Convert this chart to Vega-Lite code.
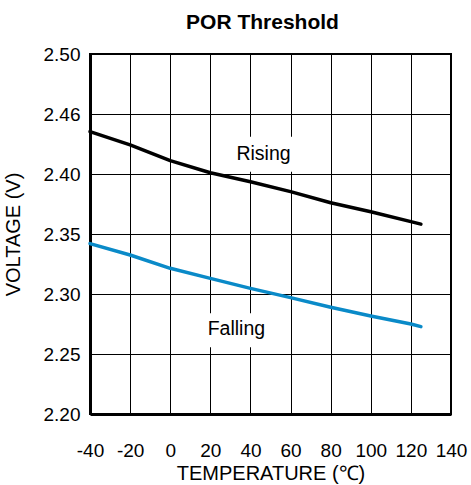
{
  "$schema": "https://vega.github.io/schema/vega-lite/v6.json",
  "width": 361,
  "height": 360,
  "autosize": {"type": "none"},
  "padding": {"left": 90, "top": 54, "right": 20, "bottom": 71},
  "background": "white",
  "title": {
    "text": "POR Threshold",
    "font": "Liberation Sans",
    "fontSize": 21,
    "fontWeight": "bold",
    "color": "black",
    "offset": 12,
    "dx": -8
  },
  "datasets": {
    "curves": [
      {"series": "Rising", "temp": -40, "volt": 2.4353},
      {"series": "Rising", "temp": -20, "volt": 2.4242},
      {"series": "Rising", "temp": 0, "volt": 2.4111},
      {"series": "Rising", "temp": 20, "volt": 2.4010},
      {"series": "Rising", "temp": 40, "volt": 2.3936},
      {"series": "Rising", "temp": 60, "volt": 2.3853},
      {"series": "Rising", "temp": 80, "volt": 2.3760},
      {"series": "Rising", "temp": 100, "volt": 2.3686},
      {"series": "Rising", "temp": 120, "volt": 2.3603},
      {"series": "Rising", "temp": 125, "volt": 2.3582},
      {"series": "Falling", "temp": -40, "volt": 2.3420},
      {"series": "Falling", "temp": -20, "volt": 2.3325},
      {"series": "Falling", "temp": 0, "volt": 2.3214},
      {"series": "Falling", "temp": 20, "volt": 2.3130},
      {"series": "Falling", "temp": 40, "volt": 2.3047},
      {"series": "Falling", "temp": 60, "volt": 2.2970},
      {"series": "Falling", "temp": 80, "volt": 2.2890},
      {"series": "Falling", "temp": 100, "volt": 2.2817},
      {"series": "Falling", "temp": 120, "volt": 2.2750},
      {"series": "Falling", "temp": 125, "volt": 2.2728}
    ],
    "labels": [
      {"label": "Rising", "temp": 46.5, "volt": 2.4117, "t1": 30.8, "t2": 62.7, "v1": 2.4019, "v2": 2.4311},
      {"label": "Falling", "temp": 33.0, "volt": 2.2658, "t1": 16.4, "t2": 49.7, "v1": 2.2556, "v2": 2.2839}
    ]
  },
  "config": {
    "font": "Liberation Sans",
    "view": {"stroke": "black", "strokeWidth": 2},
    "axis": {
      "gridColor": "black",
      "gridWidth": 1,
      "gridOpacity": 1,
      "domainColor": "black",
      "domainWidth": 3,
      "ticks": false,
      "labelColor": "black",
      "labelFont": "Liberation Sans",
      "labelFontSize": 19,
      "titleColor": "black",
      "titleFont": "Liberation Sans",
      "titleFontSize": 20,
      "titleFontWeight": "normal"
    }
  },
  "layer": [
    {
      "data": {"name": "labels"},
      "mark": {"type": "rect", "fill": "white", "stroke": null},
      "encoding": {
        "x": {"field": "t1", "type": "quantitative", "scale": {"domain": [-40, 140], "nice": false, "zero": false}},
        "x2": {"field": "t2"},
        "y": {"field": "v1", "type": "quantitative", "scale": {"domain": [2.2, 2.5], "nice": false, "zero": false}},
        "y2": {"field": "v2"}
      }
    },
    {
      "data": {"name": "labels"},
      "mark": {"type": "text", "font": "Liberation Sans", "fontSize": 19.5, "color": "black", "align": "center", "baseline": "alphabetic"},
      "encoding": {
        "x": {"field": "temp", "type": "quantitative"},
        "y": {"field": "volt", "type": "quantitative"},
        "text": {"field": "label"}
      }
    },
    {
      "data": {"name": "curves"},
      "mark": {"type": "line", "strokeWidth": 3.5, "strokeCap": "round", "strokeJoin": "round"},
      "encoding": {
        "x": {
          "field": "temp",
          "type": "quantitative",
          "axis": {
            "values": [-40, -20, 0, 20, 40, 60, 80, 100, 120, 140],
            "labelExpr": "toString(datum.value)",
            "title": "TEMPERATURE (℃)",
            "labelPadding": 27,
            "titlePadding": 3,
            "labelOverlap": false,
            "labelFlush": false
          }
        },
        "y": {
          "field": "volt",
          "type": "quantitative",
          "axis": {
            "values": [2.2, 2.25, 2.3, 2.35, 2.4, 2.45, 2.5],
            "format": ".2f",
            "labelExpr": "abs(datum.value - 2.45) < 0.001 ? '2.46' : datum.label",
            "title": "VOLTAGE (V)",
            "labelPadding": 10,
            "titlePadding": 20,
            "labelOverlap": false,
            "labelFlush": false
          }
        },
        "color": {
          "field": "series",
          "type": "nominal",
          "scale": {"domain": ["Rising", "Falling"], "range": ["black", "#0a8ac8"]},
          "legend": null
        },
        "detail": {"field": "series"}
      }
    }
  ]
}
